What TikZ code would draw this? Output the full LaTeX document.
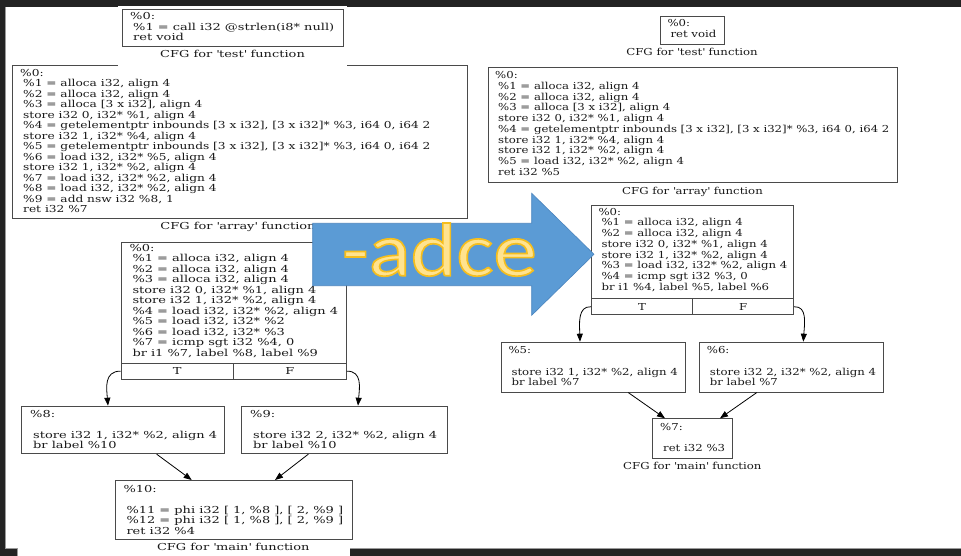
\documentclass[tikz,border=0pt]{standalone}
\usepackage{fontspec}
\usetikzlibrary{arrows.meta,calc}
\newfontfamily\cfgL{DejaVu Serif}[FakeStretch=1.35]
\newfontfamily\cfgA{DejaVu Serif}[FakeStretch=1.27]
\newfontfamily\cfgR{DejaVu Serif}[FakeStretch=1.22]
\newfontfamily\adcefont{Carlito}[FakeStretch=1.15,FakeBold=2.2]
\definecolor{bgdark}{HTML}{232323}
\definecolor{pageedge}{HTML}{9A9A9A}
\definecolor{boxline}{HTML}{4A4A4A}
\definecolor{txtcol}{HTML}{1A1A1A}
\definecolor{adceblue}{HTML}{5B9BD5}
\definecolor{adceedge}{HTML}{4A84BE}
\definecolor{adcefill}{HTML}{FFE38F}
\newcommand\cfgI{\hspace*{3pt}}
\newcommand\cfgbox[7][txtL]{\node[box,#1,anchor=north west,minimum width={(#5)-(#3)},minimum height={(#6)-(#4)}] (#2) at (#3,#4) {#7};}
\newcommand\cfgtext[5][txtL]{\node[#1,anchor=north west] (#2) at (#3,{#4-3.6}) {#5};}
\newcommand\cfgcap[5][txtL]{\node[#1,anchor=base] (#2) at (#3,{#4+3.5}) {#5};}
\newcommand\adceword[1]{{\color{adcefill}\special{pdf:code 0.961 0.745 0.118 RG}#1}}
\newcommand\q{\textquotesingle}
\tikzset{
  box/.style={draw=boxline, line width=0.9pt, inner sep=0pt, align=center},
  txtbase/.style={inner sep=0pt, align=left, text=txtcol},
  txtL/.style={txtbase, font=\cfgL\fontsize{9.6}{10.55}\selectfont},
  txtA/.style={txtbase, font=\cfgA\fontsize{9.6}{10.5}\selectfont},
  txtR/.style={txtbase, font=\cfgR\fontsize{9.6}{10.75}\selectfont},
  edge/.style={draw=black, line width=0.8pt, -{Triangle[length=8pt,width=6pt]}}
}
\begin{document}
\begin{tikzpicture}[x=1pt,y=-1pt]
\useasboundingbox (0,0) rectangle (961,556);
% screenshot background
\fill[bgdark] (0,0) rectangle (961,556);
\fill[white] (5,7) rectangle (961,548);
\fill[white] (17,540) rectangle (350,556);
\draw[pageedge, line width=0.6pt] (5,7) -- (5,548) -- (17,548) -- (17,556);
\draw[pageedge, line width=0.6pt] (350,548) -- (961,548);

% ---------- left: before ----------
\cfgbox{la}{12}{65}{467}{218}{}
\fill[white] (118,6) rectangle (347,66.2);
\cfgbox{lt}{122}{9}{343}{46}{}
\cfgtext{ltt}{130}{16}{\%0:\\ \cfgI\%1 = call i32 @strlen(i8* null)\\ \cfgI ret void}
\cfgcap{ltc}{232.5}{54}{CFG for \q test\q{} function}

\cfgtext[txtA]{lat}{20}{72.7}{\%0:\\
\cfgI\%1 = alloca i32, align 4\\
\cfgI\%2 = alloca i32, align 4\\
\cfgI\%3 = alloca [3 x i32], align 4\\
\cfgI store i32 0, i32* \%1, align 4\\
\cfgI\%4 = getelementptr inbounds [3 x i32], [3 x i32]* \%3, i64 0, i64 2\\
\cfgI store i32 1, i32* \%4, align 4\\
\cfgI\%5 = getelementptr inbounds [3 x i32], [3 x i32]* \%3, i64 0, i64 2\\
\cfgI\%6 = load i32, i32* \%5, align 4\\
\cfgI store i32 1, i32* \%2, align 4\\
\cfgI\%7 = load i32, i32* \%2, align 4\\
\cfgI\%8 = load i32, i32* \%2, align 4\\
\cfgI\%9 = add nsw i32 \%8, 1\\
\cfgI ret i32 \%7}
\cfgcap{lac}{238}{226}{CFG for \q array\q{} function}

\cfgbox{lm}{120.7}{241.7}{346}{362.7}{}
\cfgbox{lmT}{120.7}{362.7}{232.7}{378.7}{T}
\cfgbox{lmF}{232.7}{362.7}{346}{378.7}{F}
\cfgtext{lmt}{129.3}{247.3}{\%0:\\
\cfgI\%1 = alloca i32, align 4\\
\cfgI\%2 = alloca i32, align 4\\
\cfgI\%3 = alloca i32, align 4\\
\cfgI store i32 0, i32* \%1, align 4\\
\cfgI store i32 1, i32* \%2, align 4\\
\cfgI\%4 = load i32, i32* \%2, align 4\\
\cfgI\%5 = load i32, i32* \%2\\
\cfgI\%6 = load i32, i32* \%3\\
\cfgI\%7 = icmp sgt i32 \%4, 0\\
\cfgI br i1 \%7, label \%8, label \%9}

\cfgbox{l8}{20.7}{405.7}{224}{453.3}{}
\cfgtext{l8t}{30}{413.3}{\%8:\\ \mbox{}\\ \cfgI store i32 1, i32* \%2, align 4\\ \cfgI br label \%10}
\cfgbox{l9}{241}{405.7}{446.7}{453.3}{}
\cfgtext{l9t}{250}{413.3}{\%9:\\ \mbox{}\\ \cfgI store i32 2, i32* \%2, align 4\\ \cfgI br label \%10}
\cfgbox{l10}{115}{480}{351.7}{539.3}{}
\cfgtext{l10t}{123.3}{488.3}{\%10:\\ \mbox{}\\ \cfgI\%11 = phi i32 [ 1, \%8 ], [ 2, \%9 ]\\ \cfgI\%12 = phi i32 [ 1, \%8 ], [ 2, \%9 ]\\ \cfgI ret i32 \%4}
\cfgcap{l10c}{233.3}{547.3}{CFG for \q main\q{} function}

\draw[edge] (lmT.west) .. controls (104,371) and (106.5,388) .. ($(l8.north west)+(87.3,0)$);
\draw[edge] (lmF.east) .. controls (362.5,371) and (359.5,388) .. ($(l9.north west)+(117,0)$);
\draw[edge] ($(l8.south west)+(136,0)$) -- ($(l10.north west)+(76.7,0)$);
\draw[edge] ($(l9.south west)+(67.3,0)$) -- ($(l10.north west)+(160,0)$);

% ---------- right: after ----------
\cfgbox[txtR]{rt}{660}{15.7}{724.3}{44}{}
\cfgtext[txtR]{rtt}{667.3}{22.7}{\%0:\\ \cfgI ret void}
\cfgcap[txtR]{rtc}{692}{52.3}{CFG for \q test\q{} function}

\cfgbox[txtR]{ra}{488.3}{66.7}{896.7}{181.7}{}
\cfgtext[txtR]{rat}{495}{75}{\%0:\\
\cfgI\%1 = alloca i32, align 4\\
\cfgI\%2 = alloca i32, align 4\\
\cfgI\%3 = alloca [3 x i32], align 4\\
\cfgI store i32 0, i32* \%1, align 4\\
\cfgI\%4 = getelementptr inbounds [3 x i32], [3 x i32]* \%3, i64 0, i64 2\\
\cfgI store i32 1, i32* \%4, align 4\\
\cfgI store i32 1, i32* \%2, align 4\\
\cfgI\%5 = load i32, i32* \%2, align 4\\
\cfgI ret i32 \%5}
\cfgcap[txtR]{rac}{692.5}{190.7}{CFG for \q array\q{} function}

\cfgbox[txtR]{rm}{591}{205}{793.3}{298.3}{}
\cfgbox[txtR]{rmT}{591}{298.3}{692}{314.3}{T}
\cfgbox[txtR]{rmF}{692}{298.3}{793.3}{314.3}{F}
\cfgtext[txtR]{rmt}{598.3}{211.5}{\%0:\\
\cfgI\%1 = alloca i32, align 4\\
\cfgI\%2 = alloca i32, align 4\\
\cfgI store i32 0, i32* \%1, align 4\\
\cfgI store i32 1, i32* \%2, align 4\\
\cfgI\%3 = load i32, i32* \%2, align 4\\
\cfgI\%4 = icmp sgt i32 \%3, 0\\
\cfgI br i1 \%4, label \%5, label \%6}

\cfgbox[txtR]{r5}{501}{341.7}{685}{391.7}{}
\cfgtext[txtR]{r5t}{508.3}{350}{\%5:\\ \mbox{}\\ \cfgI store i32 1, i32* \%2, align 4\\ \cfgI br label \%7}
\cfgbox[txtR]{r6}{699.3}{341.7}{883.3}{391.7}{}
\cfgtext[txtR]{r6t}{706.7}{350}{\%6:\\ \mbox{}\\ \cfgI store i32 2, i32* \%2, align 4\\ \cfgI br label \%7}
\cfgbox[txtR]{r7}{652.3}{418.3}{732.3}{457.7}{}
\cfgtext[txtR]{r7t}{660}{426.7}{\%7:\\ \mbox{}\\ \cfgI ret i32 \%3}
\cfgcap[txtR]{r7c}{692.3}{466}{CFG for \q main\q{} function}

\draw[edge] (rmT.west) .. controls (577.5,306) and (579.5,324) .. ($(r5.north west)+(79,0)$);
\draw[edge] (rmF.east) .. controls (807.5,306) and (804.5,324) .. ($(r6.north west)+(104,0)$);
\draw[edge] ($(r5.south west)+(127.3,0)$) -- ($(r7.north west)+(12.7,0)$);
\draw[edge] ($(r6.south west)+(57.4,0)$) -- ($(r7.north west)+(67.7,0)$);

% ---------- big arrow ----------
\filldraw[fill=adceblue, draw=adceedge, line width=0.6pt]
  (312.7,223.3) -- (531.7,223.3) -- (531.7,193.3) -- (594,254.3)
  -- (531.7,315.3) -- (531.7,285.7) -- (312.7,285.7) -- cycle;
\node[inner sep=0pt, anchor=base, font=\adcefont\fontsize{76}{76}\selectfont] (adce) at (439.5,275.7) {\adceword{-adce}};
\end{tikzpicture}
\end{document}
